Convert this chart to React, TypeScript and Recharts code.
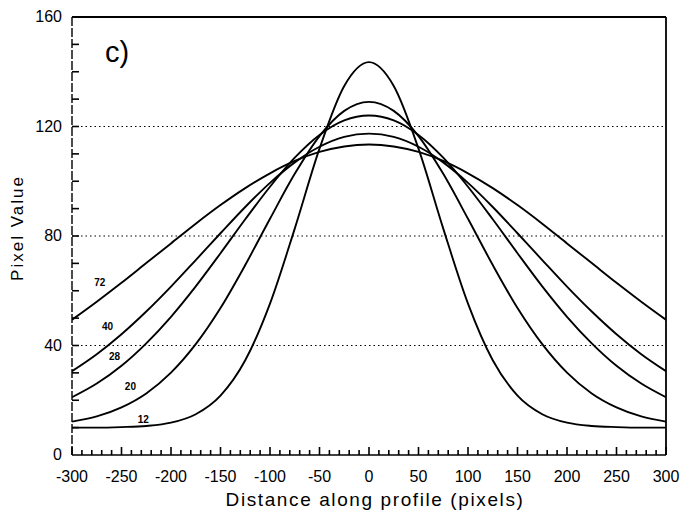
import React from 'react';
import { LineChart, Line, XAxis, YAxis, ReferenceLine, ReferenceDot } from 'recharts';

// Distance along profile (pixels)
const distance = [-300, -275, -250, -225, -200, -175, -150, -125, -100, -75, -50, -25, 0, 25, 50, 75, 100, 125, 150, 175, 200, 225, 250, 275, 300];

// Pixel value profiles, one per smoothing width
const profile12 = [10.0, 10.0, 10.2, 10.6, 11.8, 14.9, 21.7, 34.6, 55.3, 82.7, 111.9, 134.8, 143.5, 134.8, 111.9, 82.7, 55.3, 34.6, 21.7, 14.9, 11.8, 10.6, 10.2, 10.0, 10.0];
const profile20 = [12.2, 14.1, 17.4, 22.5, 30.1, 40.5, 53.7, 69.4, 86.3, 102.7, 116.5, 125.7, 129.0, 125.7, 116.5, 102.7, 86.3, 69.4, 53.7, 40.5, 30.1, 22.5, 17.4, 14.1, 12.2];
const profile28 = [21.1, 26.1, 32.6, 40.8, 50.5, 61.6, 73.7, 86.1, 98.0, 108.6, 116.9, 122.2, 124.0, 122.2, 116.9, 108.6, 98.0, 86.1, 73.7, 61.6, 50.5, 40.8, 32.6, 26.1, 21.1];
const profile40 = [30.6, 36.8, 44.1, 52.4, 61.5, 71.2, 81.0, 90.6, 99.4, 106.9, 112.6, 116.2, 117.4, 116.2, 112.6, 106.9, 99.4, 90.6, 81.0, 71.2, 61.5, 52.4, 44.1, 36.8, 30.6];
const profile72 = [49.4, 56.0, 62.9, 70.1, 77.3, 84.5, 91.3, 97.5, 102.9, 107.4, 110.7, 112.7, 113.4, 112.7, 110.7, 107.4, 102.9, 97.5, 91.3, 84.5, 77.3, 70.1, 62.9, 56.0, 49.4];

// Curve annotations (label text and anchor in data units)
const curveNames = ['72', '40', '28', '20', '12'];
const curveNameX = [-272, -264, -257, -241, -228];
const curveNameY = [63, 47, 36, 25, 13];

// Axis ticks
const xMinorTicks = Array.from({ length: 61 }, (_, i) => -300 + i * 10);
const xLabelTicks = [-300, -250, -200, -150, -100, -50, 0, 50, 100, 150, 200, 250, 300];
const yMinorTicks = Array.from({ length: 17 }, (_, i) => i * 10);
const yLabelTicks = [0, 40, 80, 120, 160];
const gridValues = [40, 80, 120];

const data = distance.map((d, i) => ({
  d,
  p12: profile12[i],
  p20: profile20[i],
  p28: profile28[i],
  p40: profile40[i],
  p72: profile72[i],
}));

const FONT = '"Liberation Sans", Arial, sans-serif';

const XTick = (props: any) => {
  const { x, y, payload } = props;
  const v = payload.value;
  const major = xLabelTicks.includes(v);
  const len = major ? 8 : 5;
  return (
    <g>
      <path d={`M${x},${y}L${x},${y - len}`} stroke="#000" strokeWidth={1.6} fill="none" />
      {major && (
        <text x={x} y={y + 27} textAnchor="middle" fontSize={16} fontFamily={FONT} fill="#000">
          {v}
        </text>
      )}
    </g>
  );
};

const YTick = (props: any) => {
  const { x, y, payload } = props;
  const v = payload.value;
  const major = yLabelTicks.includes(v);
  return (
    <g>
      {v !== 0 && v !== 160 && (
        <path d={`M${x},${y}L${x + 7},${y}`} stroke="#000" strokeWidth={1.6} fill="none" />
      )}
      {major && (
        <text x={x - 10} y={y + 5} textAnchor="end" fontSize={16} fontFamily={FONT} fill="#000">
          {v}
        </text>
      )}
    </g>
  );
};

const XTitle = () => (
  <text x={375} y={506} textAnchor="middle" fontSize={19} letterSpacing={1.6} fontFamily={FONT} fill="#000">
    Distance along profile (pixels)
  </text>
);

const YTitle = () => (
  <g>
    <text
      x={23}
      y={228}
      transform="rotate(-90 23 228)"
      textAnchor="middle"
      fontSize={17}
      letterSpacing={2}
      fontFamily={FONT}
      fill="#000"
    >
      Pixel Value
    </text>
    <text x={105} y={62} fontSize={29} fontFamily={FONT} fill="#000">
      c)
    </text>
  </g>
);

export default function App() {
  return (
    <div style={{ position: 'absolute', left: 0, top: 0, width: 680, height: 513, background: '#fff' }}>
      <LineChart width={680} height={513} data={data} margin={{ top: 17, right: 14, bottom: 0, left: 12 }}>
        <XAxis
          dataKey="d"
          type="number"
          domain={[-300, 300]}
          ticks={xMinorTicks}
          interval={0}
          tick={<XTick />}
          tickLine={false}
          tickSize={0}
          tickMargin={0}
          height={58}
          axisLine={{ stroke: '#000', strokeWidth: 1.6 }}
          allowDataOverflow
          label={<XTitle />}
        />
        <YAxis
          type="number"
          domain={[0, 160]}
          ticks={yMinorTicks}
          interval={0}
          tick={<YTick />}
          tickLine={false}
          tickSize={0}
          tickMargin={0}
          width={60}
          axisLine={{ stroke: '#000', strokeWidth: 1.4, strokeDasharray: '9 2' }}
          allowDataOverflow
          label={<YTitle />}
        />
        {gridValues.map((g) => (
          <ReferenceLine key={g} y={g} stroke="#000" strokeWidth={1} strokeDasharray="1.5 3" />
        ))}
        <ReferenceLine y={160} stroke="#000" strokeWidth={2} />
        <ReferenceLine x={300} stroke="#000" strokeWidth={1.8} />
        <Line type="monotone" dataKey="p12" stroke="#000" strokeWidth={1.9} dot={false} isAnimationActive={false} />
        <Line type="monotone" dataKey="p20" stroke="#000" strokeWidth={1.9} dot={false} isAnimationActive={false} />
        <Line type="monotone" dataKey="p28" stroke="#000" strokeWidth={1.9} dot={false} isAnimationActive={false} />
        <Line type="monotone" dataKey="p40" stroke="#000" strokeWidth={1.9} dot={false} isAnimationActive={false} />
        <Line type="monotone" dataKey="p72" stroke="#000" strokeWidth={1.9} dot={false} isAnimationActive={false} />
        {curveNames.map((n, i) => (
          <ReferenceDot
            key={n}
            x={curveNameX[i]}
            y={curveNameY[i]}
            r={0}
            stroke="none"
            fill="none"
            label={{ value: n, position: 'center', fontSize: 10, fontWeight: 'bold', fill: '#000', fontFamily: FONT }}
          />
        ))}
      </LineChart>
    </div>
  );
}
